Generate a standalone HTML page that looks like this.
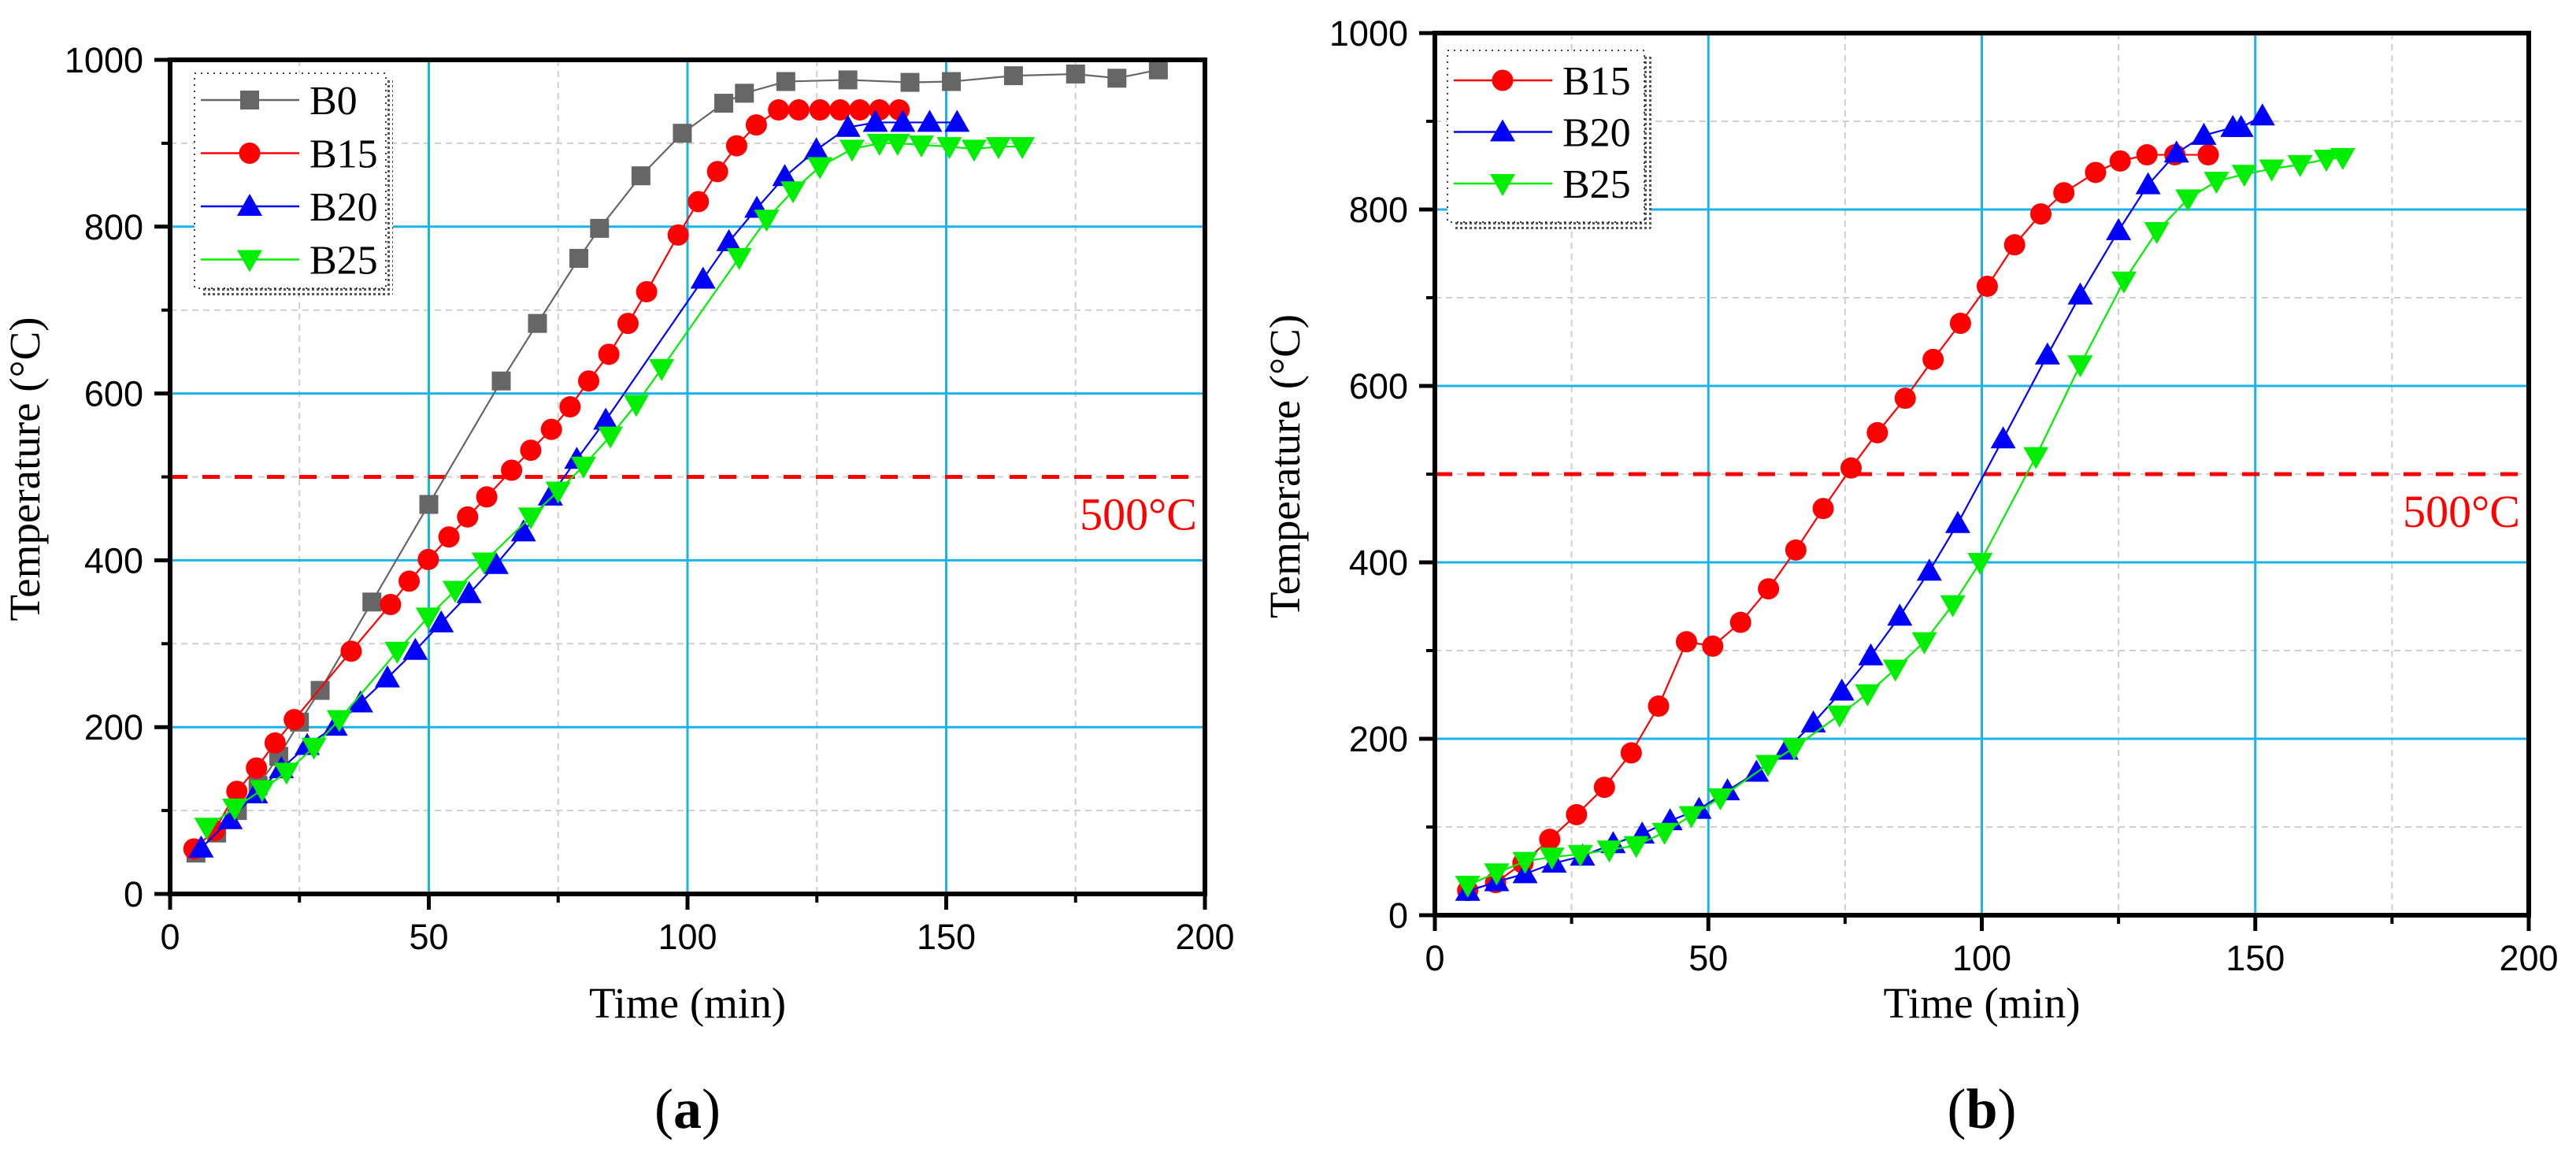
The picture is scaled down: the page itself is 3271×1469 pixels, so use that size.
<!DOCTYPE html>
<html><head><meta charset="utf-8"><style>
html,body{margin:0;padding:0;background:#fff;}
svg{display:block;}
.tk{font-family:"Liberation Sans",sans-serif;font-size:45px;fill:#000;}
.sf{font-family:"Liberation Serif",serif;}
</style></head><body>
<svg id="fig" width="3271" height="1469" viewBox="0 0 3271 1469" xmlns="http://www.w3.org/2000/svg">
<defs>
<pattern id="stip" width="6" height="6" patternUnits="userSpaceOnUse"><rect width="6" height="6" fill="#fff"/><rect width="3" height="3" fill="#555"/></pattern>
</defs>
</svg>
<script>
// ---- data: panel (a) ----
const aB0t=[5,9,13,17,21,25,29,39,50,64,71,79,83,91,99,107,111,119,131,143,151,163,175,183,191];
const aB0v=[49,73,100,130,165,206,244,350,467,615,684,762,798,861,912,948,960,974,976,973,974,981,983,978,988];
const aB15t=[4.6,8.6,12.9,16.7,20.3,24,35,42.6,46.2,49.9,53.9,57.5,61.2,66,69.7,73.7,77.3,80.9,84.8,88.5,92.1,98.2,102.1,105.8,109.5,113.3,117.6,121.5,125.6,129.5,133.3,137.1,140.9];
const aB15v=[54,76,123,151,181,209,291,347,375,401,428,452,476,508,532,557,584,615,647,684,722,790,830,866,897,922,940,940,940,940,940,940,940];
const aB20t=[6,11.6,16.5,21.5,26.5,31.9,36.8,42,47.4,52.4,57.8,63,68.3,73.5,78.6,84.2,103,108,113.4,118.8,124.9,131,136.3,141.6,146.8,152.1];
const aB20v=[55,89,120,150,178,201,229,259,292,325,360,395,434,477,521,568,737,782,822,860,892,919,925,925,925,925];
const aB25t=[7.1,12.5,17.8,22.5,27.8,32.7,43.9,49.9,55.1,60.7,69.7,75,79.9,85.1,90.1,95,110,115.3,120.4,125.6,131.8,137.1,140.6,145.2,150.6,155.4,160.1,164.7];
const aB25v=[80,103,125,146,176,209,291,332,364,398,452,483,513,549,587,630,763,809,843,872,893,900,900,898,896,893,896,896];
// ---- data: panel (b) ----
const bB15t=[6,11.1,16.1,21,25.9,31,35.9,40.9,46,50.8,55.9,61,66,71,76.1,80.9,86,91.1,96.1,101,106,110.8,115,120.8,125.3,130.2,135.3,141.4];
const bB15v=[28,37,59,86,114,145,184,237,310,305,332,370,414,461,507,547,586,630,671,713,760,795,819,842,855,862,862,862];
const bB20t=[6,11.3,16.5,21.8,27,32.6,37.9,43,48.3,53.5,58.8,64.2,69.2,74.4,79.7,85,90.4,95.6,103.9,112,118,125,130.4,135.6,140.6,145.9,147.4,151.3];
const bB20v=[27,38,47,59,67,81,92,107,120,141,162,187,218,254,294,339,390,444,540,635,703,776,828,864,884,893,893,906];
const bB25t=[6,11.3,16.5,21.4,26.6,31.9,36.8,42,46.9,52.2,60.9,65.7,74,79.1,84.2,89.5,94.7,99.7,109.9,118,126,132,137.7,142.9,148,153,158.2,163,166];
const bB25v=[34,48,61,66,69,74,79,94,113,133,171,190,227,251,279,310,352,400,520,624,719,775,812,832,840,846,851,857,859];
const xTicks=[0,50,100,150,200];
const yTicks=[0,200,400,600,800,1000];
const xMinor=[25,75,125,175];
const yMinor=[100,300,500,700,900];
const refTemp=500;

const NS='http://www.w3.org/2000/svg';
const svg=document.getElementById('fig');
function mk(tag,attrs,parent,text){
  const e=document.createElementNS(NS,tag);
  for(const k in attrs)e.setAttribute(k,attrs[k]);
  if(text!==undefined)e.textContent=text;
  (parent||svg).appendChild(e);return e;
}
const COL={B0:'#666666',B15:'#ff0000',B20:'#0000ff',B25:'#00ee00'};
function marker(g,kind,cx,cy,col){
  let e;
  if(kind==='B0'){e=mk('rect',{x:cx-12,y:cy-12,width:24,height:24,fill:col},g);}
  else if(kind==='B15'){e=mk('circle',{cx:cx,cy:cy,r:13.5,fill:col},g);}
  else if(kind==='B20'){e=mk('polygon',{points:`${cx},${cy-16} ${cx-16},${cy+12} ${cx+16},${cy+12}`,fill:col},g);}
  else {e=mk('polygon',{points:`${cx},${cy+16} ${cx-16},${cy-12} ${cx+16},${cy-12}`,fill:col},g);}
  return e;
}
function panel(id,L,T,R,B,series,legBox,yTitleX,tagLabel,refX){
  const X=t=>L+(R-L)*t/200, Y=v=>B-(B-T)*v/1000;
  const g=mk('g',{});
  
  
  xMinor.forEach(t=>{const l=mk('line',{x1:X(t),y1:T,x2:X(t),y2:B,stroke:'#cfcfcf','stroke-width':2,'stroke-dasharray':'8 6'},g);
    });
  yMinor.forEach(v=>{const l=mk('line',{x1:L,y1:Y(v),x2:R,y2:Y(v),stroke:'#cfcfcf','stroke-width':2,'stroke-dasharray':'8 6'},g);
    });
  xTicks.slice(1,-1).forEach(t=>{const l=mk('line',{x1:X(t),y1:T,x2:X(t),y2:B,stroke:'#1cb2ea','stroke-width':3},g);
    });
  yTicks.slice(1,-1).forEach(v=>{const l=mk('line',{x1:L,y1:Y(v),x2:R,y2:Y(v),stroke:'#1cb2ea','stroke-width':3},g);
    });
  const rl=mk('line',{x1:L,y1:Y(refTemp),x2:R,y2:Y(refTemp),stroke:'#ff0000','stroke-width':5,'stroke-dasharray':'22 19'},g);
  
  const rt=mk('text',{x:refX,y:Y(refTemp)+67,'text-anchor':'end','class':'sf','font-size':58,fill:'#ff0000'},g,'500°C');
  
  series.forEach(s=>{
    const sg=mk('g',{},g);
    
    
    const pts=s.t.map((t,i)=>X(t)+','+Y(s.v[i])).join(' ');
    const pl=mk('polyline',{points:pts,fill:'none',stroke:COL[s.name],'stroke-width':2.2},sg);
    
    s.t.forEach((t,i)=>{const m=marker(sg,s.name,X(t),Y(s.v[i]),COL[s.name]);
      });
  });
  const fr=mk('rect',{x:L,y:T,width:R-L,height:B-T,fill:'none',stroke:'#000','stroke-width':6},g);
  
  xTicks.forEach(t=>{const l=mk('line',{x1:X(t),y1:B,x2:X(t),y2:B+20,stroke:'#000','stroke-width':5},g);
    
    const tx=mk('text',{x:X(t),y:B+70,'text-anchor':'middle','class':'tk'},g,String(t));
    });
  xMinor.forEach(t=>{const l=mk('line',{x1:X(t),y1:B,x2:X(t),y2:B+11,stroke:'#000','stroke-width':4},g);
    });
  yTicks.forEach(v=>{const l=mk('line',{x1:L-20,y1:Y(v),x2:L,y2:Y(v),stroke:'#000','stroke-width':5},g);
    
    const tx=mk('text',{x:L-34,y:Y(v)+16,'text-anchor':'end','class':'tk'},g,String(v));
    });
  yMinor.forEach(v=>{const l=mk('line',{x1:L-11,y1:Y(v),x2:L,y2:Y(v),stroke:'#000','stroke-width':4},g);
    });
  const xt=mk('text',{x:(L+R)/2,y:1292,'text-anchor':'middle','class':'sf','font-size':55},g,'Time (min)');
  
  const yc=(T+B)/2-10;
  const yt=mk('text',{x:yTitleX,y:yc,'text-anchor':'middle','class':'sf','font-size':55,transform:`rotate(-90 ${yTitleX} ${yc})`},g,'Temperature (°C)');
  
  const tg=mk('text',{x:(L+R)/2,y:1432,'text-anchor':'middle','class':'sf','font-size':72},g);
  
  mk('tspan',{},tg,'(');mk('tspan',{'font-weight':'bold'},tg,tagLabel);mk('tspan',{},tg,')');
  const lg=mk('g',{},g);
  
  const b=legBox;
  mk('rect',{x:b.x+8,y:b.y+b.h,width:b.w,height:9,fill:'url(#stip)'},lg);
  mk('rect',{x:b.x+b.w,y:b.y+8,width:9,height:b.h,fill:'url(#stip)'},lg);
  mk('rect',{x:b.x,y:b.y,width:b.w,height:b.h,fill:'#fff',stroke:'#000','stroke-width':1.5,'stroke-dasharray':'2 6'},lg);
  series.forEach((s,i)=>{
    const ey=b.y0+i*b.dy;
    const e=mk('g',{},lg);
    
    
    mk('line',{x1:b.x+8,y1:ey,x2:b.x+133,y2:ey,stroke:COL[s.name],'stroke-width':2.5},e);
    marker(e,s.name,b.x+70,ey,COL[s.name]);
    mk('text',{x:b.x+146,y:ey+18,'class':'sf','font-size':52},e,s.name);
  });
}
panel('a',216,76,1530,1135,[
  {name:'B0',t:aB0t,v:aB0v},{name:'B15',t:aB15t,v:aB15v},{name:'B20',t:aB20t,v:aB20v},{name:'B25',t:aB25t,v:aB25v}],
  {x:247,y:93,w:243,h:273,y0:127,dy:67.5},50,'a',1520);
panel('b',1822,42,3211,1162,[
  {name:'B15',t:bB15t,v:bB15v},{name:'B20',t:bB20t,v:bB20v},{name:'B25',t:bB25t,v:bB25v}],
  {x:1838,y:64,w:250,h:218,y0:102,dy:65.5},1650,'b',3200);
</script>
</body></html>
